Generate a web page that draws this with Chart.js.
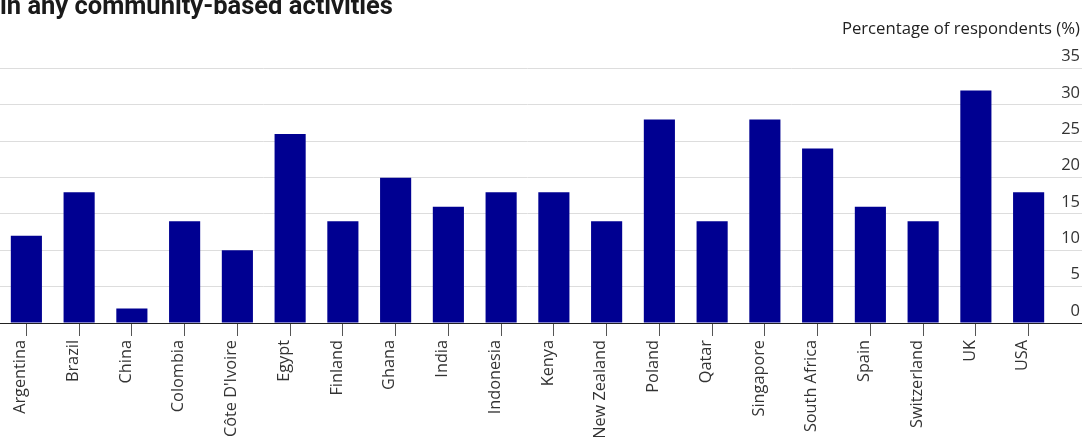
<!DOCTYPE html>
<html>
<head>
<meta charset="utf-8">
<script src="https://cdn.jsdelivr.net/npm/chart.js@4"></script>
<style>
  html, body { margin: 0; padding: 0; background: #fff; }
  #wrap { width: 1087px; height: 437px; }
</style>
</head>
<body>
<div id="wrap"><canvas id="chart"></canvas></div>
<script>
// data
const countries = ['Argentina', 'Brazil', 'China', 'Colombia', "Côte D'Ivoire", 'Egypt', 'Finland', 'Ghana', 'India', 'Indonesia',
    'Kenya', 'New Zealand', 'Poland', 'Qatar', 'Singapore', 'South Africa', 'Spain', 'Switzerland', 'UK', 'USA'];
const percentages = [12, 18, 2, 14, 10, 26, 14, 20, 16, 18, 18, 14, 28, 14, 28, 24, 16, 14, 32, 18];
const yTicks = [0, 5, 10, 15, 20, 25, 30, 35];

const titleText = 'in any community-based activities';
const axisTitle = 'Percentage of respondents (%)';

const ctx = document.getElementById('chart').getContext('2d');

new Chart(ctx, {
    type: 'bar',
    data: {
        labels: countries,
        datasets: [{
            data: percentages,
            backgroundColor: '#000091',
            barPercentage: 0.59,
            categoryPercentage: 1.0
        }]
    },
    options: {
        responsive: true,
        maintainAspectRatio: false,
        animation: false,
        layout: {
            padding: { left: 0, right: 7, top: 0, bottom: 0 }
        },
        plugins: {
            legend: { display: false },
            tooltip: { enabled: false },
            title: {
                display: true,
                text: titleText,
                align: 'start',
                color: '#1a1a1a',
                font: { family: 'Roboto', size: 25.5, weight: 'bold', lineHeight: 1.2 },
                padding: { top: -8, bottom: 0 }
            },
            subtitle: {
                display: true,
                text: axisTitle,
                align: 'end',
                color: '#222',
                font: { family: 'Open Sans', size: 16.7, lineHeight: 1.2 },
                padding: { top: -3, bottom: 29 }
            }
        },
        scales: {
            x: {
                offset: true,
                grid: {
                    offset: false,
                    drawOnChartArea: false,
                    drawTicks: true,
                    tickLength: 13,
                    tickColor: '#555'
                },
                border: { display: true, color: '#222', width: 1 },
                ticks: {
                    autoSkip: false,
                    minRotation: 90,
                    maxRotation: 90,
                    padding: 4,
                    labelOffset: -6,
                    color: '#333',
                    font: { family: 'Open Sans', size: 16.3 }
                },
                afterFit: function (scale) {
                    scale.height = 114;
                }
            },
            y: {
                position: 'right',
                min: 0,
                max: 35,
                afterBuildTicks: function (scale) {
                    scale.ticks = yTicks.map(v => ({ value: v }));
                },
                grid: {
                    color: c => c.tick && c.tick.value === 0 ? '#222' : '#dddddd',
                    tickColor: c => c.tick && c.tick.value === 0 ? '#222' : '#dddddd',
                    lineWidth: 1,
                    drawTicks: true,
                    tickLength: 27
                },
                border: { display: false },
                ticks: {
                    crossAlign: 'far',
                    labelOffset: -12,
                    color: '#333',
                    font: { family: 'Open Sans', size: 16.5 }
                },
                afterFit: function (scale) {
                    scale.width = 25;
                }
            }
        }
    }
});
</script>
</body>
</html>
